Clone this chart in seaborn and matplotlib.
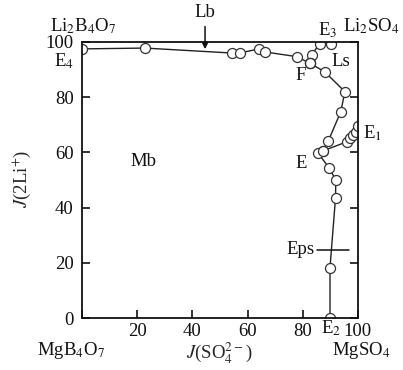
import matplotlib
matplotlib.use('Agg')
import matplotlib.pyplot as plt
import pandas as pd
import seaborn as sns

# ---- data ----
# E4 -> F  (Lb / Mb boundary)
lb_x = [0.0, 22.8, 54.3, 57.2, 64.1, 66.3, 77.8, 82.6]
lb_y = [97.5, 97.8, 96.0, 96.0, 97.5, 96.4, 94.7, 92.3]
# E3 -> F  (Lb / Ls boundary)
e3_x = [90.3, 86.2, 83.2, 82.6]
e3_y = [99.4, 99.4, 95.3, 92.3]
# F -> E  (Ls / Mb boundary)
ls_x = [82.6, 88.0, 95.3, 93.8, 89.3, 87.2]
ls_y = [92.3, 89.2, 82.0, 74.7, 64.2, 60.5]
# E -> E1  (Ls / Eps boundary)
e1_x = [87.2, 95.9, 97.1, 98.3, 99.3, 100.0]
e1_y = [60.5, 63.8, 65.3, 66.3, 67.5, 69.5]
# E -> E2  (Mb / Eps boundary)
e2_x = [85.6, 89.5, 92.0, 91.9, 89.9, 89.9]
e2_y = [59.7, 54.5, 50.0, 43.5, 18.3, 0.0]

x_ticks = [0, 20, 40, 60, 80, 100]
x_ticklabels = ['', '20', '40', '60', '80', '100']
y_ticks = [0, 20, 40, 60, 80, 100]
y_ticklabels = ['0', '20', '40', '60', '80', '100']

frames = []
for name, xs, ys in [('Lb', lb_x, lb_y), ('E3', e3_x, e3_y), ('Ls', ls_x, ls_y),
                     ('E1', e1_x, e1_y), ('E2', e2_x, e2_y)]:
    frames.append(pd.DataFrame({'x': xs, 'y': ys, 'branch': name}))
df = pd.concat(frames, ignore_index=True)

sns.set_style('ticks')
plt.rcParams['font.family'] = ['Liberation Serif', 'DejaVu Serif']
plt.rcParams['mathtext.fontset'] = 'stix'
FS = 13.5

fig = plt.figure(figsize=(4.03, 3.70), dpi=100)
ax = fig.add_axes([0.2035, 0.1405, 0.6845, 0.746])

sns.lineplot(data=df, x='x', y='y', units='branch', estimator=None, sort=False,
             color='#222222', linewidth=1.0, marker='o', markersize=7.2,
             markerfacecolor='white', markeredgecolor='#333333',
             markeredgewidth=0.9, legend=False, ax=ax)
sns.scatterplot(data=df, x='x', y='y', s=0.6, color='#888888', linewidth=0,
                legend=False, ax=ax)

ax.set_xlim(0, 100)
ax.set_ylim(0, 100)
ax.set_xticks(x_ticks)
ax.set_xticklabels(x_ticklabels)
ax.set_yticks(y_ticks)
ax.set_yticklabels(y_ticklabels)
ax.tick_params(direction='in', length=6, width=1.2, right=True, top=False,
               labelsize=FS, colors='#111111')
ax.tick_params(axis='y', pad=6)
ax.tick_params(axis='x', pad=3.5)
for s in ax.spines.values():
    s.set_visible(True)
    s.set_linewidth(1.3)
    s.set_color('#111111')

ax.set_xlabel(r'$J$(SO$_4^{2-}$)', fontsize=FS)
ax.xaxis.set_label_coords(0.496, -0.128)
ax.xaxis.label.set_va('center')
ax.set_ylabel(r'$J$(2Li$^{+}$)', fontsize=FS)
ax.yaxis.set_label_coords(-0.219, 0.505)
ax.yaxis.label.set_va('center')

def lab(x, y, s, ha='center'):
    ax.text(x, y, s, fontsize=FS, ha=ha, va='center', clip_on=False,
            color='#111111')

lab(0.5, 105.8, r'Li$_2$B$_4$O$_7$')
lab(104.9, 105.8, r'Li$_2$SO$_4$')
lab(88.9, 104.3, r'E$_3$')
lab(-6.7, 92.9, r'E$_4$')
lab(79.3, 87.7, 'F')
lab(93.8, 92.8, 'Ls')
lab(105.4, 66.8, r'E$_1$')
lab(79.3, 56.0, 'E')
lab(22.1, 56.7, 'Mb')
lab(84.3, 25.0, 'Eps', ha='right')
lab(90.4, -3.8, r'E$_2$')
lab(-4.0, -11.6, r'MgB$_4$O$_7$')
lab(101.3, -11.6, r'MgSO$_4$')
lab(44.6, 110.6, 'Lb')

# Lb arrow
ax.annotate('', xy=(44.6, 97.4), xytext=(44.6, 105.6),
            arrowprops=dict(arrowstyle='-|>', color='#111111', lw=1.1,
                            mutation_scale=9, shrinkA=0, shrinkB=0),
            annotation_clip=False)
# Eps pointer line
ax.plot([85.3, 96.7], [24.8, 24.8], color='#111111', linewidth=1.1)

fig.savefig('out.png', dpi=100)
